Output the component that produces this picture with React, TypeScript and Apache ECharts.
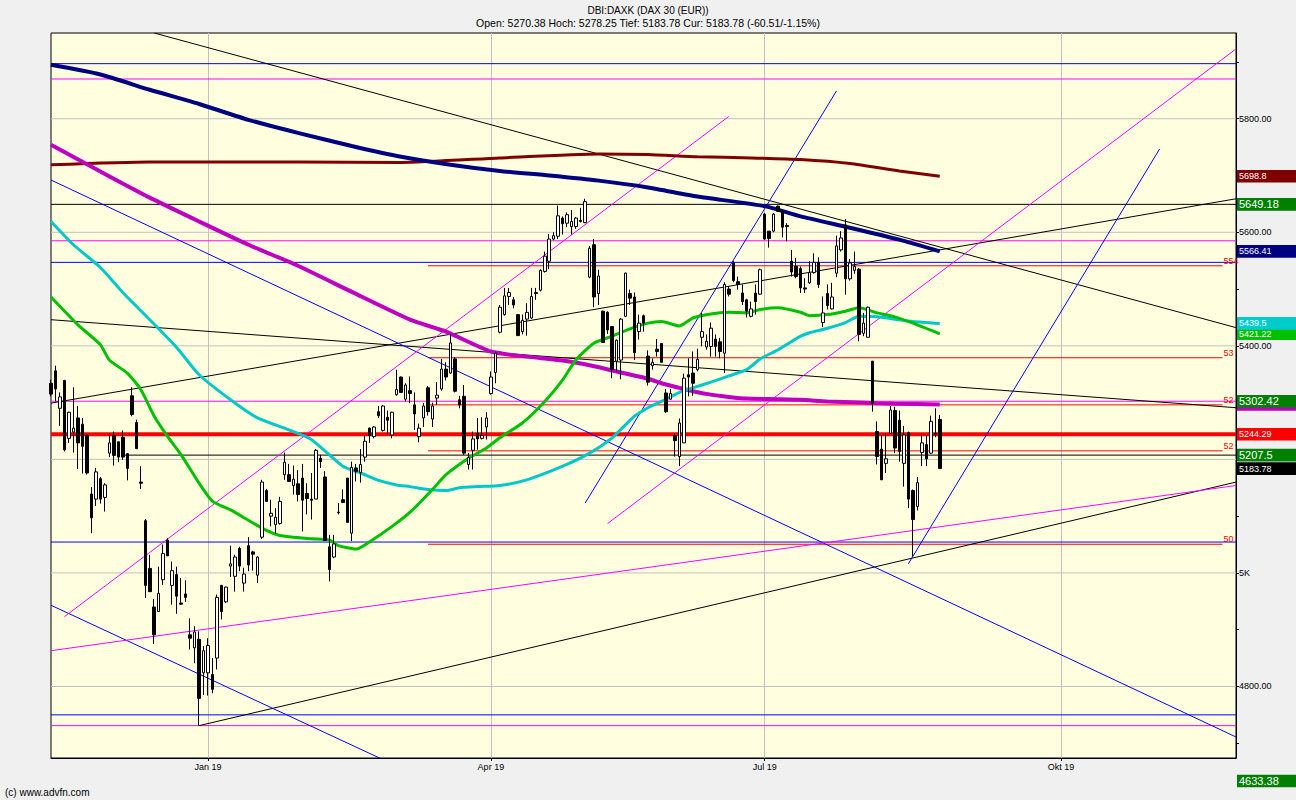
import React, { useEffect, useRef } from "react";
import * as echarts from "echarts";

const FONT = "'Liberation Sans', Arial, sans-serif";
const NARROW = "'Liberation Sans Narrow', 'Arial Narrow', 'Liberation Sans', Arial, sans-serif";

// ---- axes ----
const categoryCount = 265;
const categories = Array.from({ length: categoryCount }, (_, i) => String(i));
const lastIndex = categoryCount - 1;
const monthTickIndex = [35, 98, 159, 225];
const monthTickLabels = ["Jan 19", "Apr 19", "Jul 19", "Okt 19"];
const yMin = 4674;
const yMax = 5951;
const yTickValues = [4700, 4800, 4900, 5000, 5100, 5200, 5300, 5400, 5500, 5600, 5700, 5800, 5900];
// 5200.00 sits under the 5207.5 price tag in the reference, so it is not shown
const yLabelValues = [4800, 5000, 5400, 5600, 5800];
const gridValues = [4800, 5000, 5200, 5400, 5600, 5800];

// ---- daily candles: [open, close, low, high] ----
const ohlc: number[][] = [
  [5334, 5315, 5311, 5340], [5356, 5324, 5302, 5365], [5290, 5310, 5259, 5318], [5339, 5217, 5214, 5340],
  [5237, 5283, 5229, 5284], [5248, 5255, 5212, 5327], [5273, 5229, 5183, 5294], [5262, 5223, 5175, 5273],
  [5243, 5176, 5173, 5243], [5139, 5097, 5070, 5151], [5130, 5178, 5118, 5185], [5166, 5130, 5122, 5169],
  [5133, 5155, 5108, 5158], [5211, 5229, 5204, 5246], [5242, 5207, 5189, 5249], [5231, 5204, 5195, 5231],
  [5239, 5204, 5199, 5251], [5210, 5184, 5163, 5211], [5312, 5279, 5276, 5327], [5265, 5219, 5218, 5270],
  [5160, 5158, 5148, 5188], [5092, 4978, 4956, 5095], [5008, 4967, 4967, 5032], [4940, 4891, 4875, 4954],
  [4932, 4964, 4932, 5011], [4988, 5034, 4979, 5050], [5058, 5030, 5030, 5061], [4978, 5004, 4944, 5020],
  [4997, 4959, 4928, 5011], [4947, 4945, 4944, 4991], [4963, 4957, 4949, 4987], [4891, 4885, 4865, 4920],
  [4868, 4896, 4841, 4906], [4883, 4779, 4731, 4897], [4824, 4863, 4785, 4871], [4824, 4872, 4784, 4885],
  [4821, 4795, 4788, 4850], [4850, 4957, 4830, 4962], [4978, 4932, 4918, 4979], [4949, 4975, 4947, 4976],
  [5012, 5016, 4993, 5048], [4994, 5028, 4967, 5032], [5043, 5012, 5003, 5046], [4982, 4998, 4967, 5009],
  [5048, 5014, 5003, 5063], [5037, 5033, 5004, 5039], [4996, 5028, 4982, 5029], [5063, 5160, 5060, 5164],
  [5145, 5126, 5125, 5148], [5100, 5105, 5082, 5129], [5085, 5098, 5069, 5114], [5087, 5126, 5085, 5134],
  [5173, 5195, 5164, 5212], [5173, 5161, 5161, 5192], [5154, 5165, 5138, 5189], [5157, 5138, 5126, 5181],
  [5167, 5128, 5073, 5192], [5140, 5131, 5103, 5158], [5130, 5128, 5094, 5176], [5130, 5216, 5130, 5218],
  [5202, 5196, 5185, 5208], [5169, 5057, 5057, 5179], [5046, 5006, 4985, 5067], [5028, 5051, 5026, 5067],
  [5107, 5106, 5103, 5123], [5129, 5124, 5123, 5147], [5167, 5089, 5089, 5167], [5070, 5186, 5056, 5196],
  [5185, 5179, 5161, 5192], [5177, 5191, 5159, 5218], [5204, 5232, 5196, 5243], [5255, 5242, 5229, 5256],
  [5240, 5257, 5237, 5259], [5284, 5277, 5273, 5294], [5251, 5294, 5249, 5296], [5274, 5269, 5243, 5286],
  [5243, 5283, 5237, 5284], [5314, 5323, 5312, 5358], [5345, 5318, 5317, 5346], [5306, 5331, 5302, 5334],
  [5321, 5316, 5299, 5346], [5296, 5280, 5252, 5318], [5240, 5255, 5230, 5263], [5273, 5294, 5257, 5299],
  [5326, 5284, 5277, 5329], [5271, 5294, 5257, 5300], [5308, 5313, 5296, 5336], [5324, 5359, 5321, 5377],
  [5359, 5345, 5339, 5371], [5352, 5405, 5351, 5421], [5377, 5320, 5318, 5380], [5305, 5296, 5290, 5312],
  [5311, 5211, 5208, 5331], [5191, 5203, 5182, 5211], [5216, 5236, 5182, 5249], [5246, 5236, 5217, 5273],
  [5237, 5242, 5235, 5274], [5257, 5273, 5235, 5283], [5316, 5345, 5314, 5355], [5353, 5387, 5334, 5390],
  [5424, 5468, 5422, 5472], [5455, 5488, 5453, 5502], [5487, 5494, 5472, 5502], [5481, 5472, 5466, 5486],
  [5455, 5418, 5418, 5455], [5425, 5445, 5420, 5455], [5447, 5459, 5418, 5475], [5449, 5487, 5447, 5502],
  [5492, 5494, 5481, 5502], [5498, 5533, 5496, 5535], [5531, 5558, 5529, 5566], [5549, 5588, 5535, 5597],
  [5588, 5594, 5586, 5600], [5593, 5629, 5588, 5647], [5625, 5615, 5596, 5628], [5616, 5631, 5609, 5635],
  [5610, 5619, 5596, 5639], [5610, 5625, 5606, 5627], [5621, 5619, 5617, 5643], [5617, 5654, 5616, 5659],
  [5521, 5572, 5519, 5576], [5578, 5486, 5468, 5588], [5492, 5523, 5472, 5534], [5461, 5406, 5405, 5462],
  [5459, 5428, 5421, 5461], [5434, 5358, 5343, 5434], [5373, 5410, 5355, 5411], [5375, 5447, 5341, 5449],
  [5452, 5528, 5451, 5529], [5492, 5484, 5472, 5499], [5486, 5388, 5375, 5494], [5425, 5440, 5411, 5455],
  [5453, 5440, 5425, 5455], [5382, 5336, 5330, 5392], [5365, 5371, 5358, 5378], [5394, 5390, 5381, 5412],
  [5404, 5371, 5370, 5405], [5317, 5284, 5282, 5324], [5306, 5316, 5305, 5324], [5242, 5233, 5205, 5246],
  [5205, 5264, 5188, 5272], [5229, 5343, 5229, 5351], [5349, 5345, 5311, 5378], [5352, 5334, 5312, 5390],
  [5358, 5376, 5355, 5395], [5415, 5425, 5399, 5458], [5398, 5408, 5393, 5420], [5399, 5431, 5381, 5441],
  [5412, 5399, 5381, 5420], [5407, 5390, 5378, 5414], [5387, 5508, 5352, 5512], [5500, 5491, 5487, 5505],
  [5546, 5515, 5512, 5549], [5513, 5508, 5499, 5522], [5493, 5478, 5472, 5508], [5481, 5461, 5450, 5483],
  [5452, 5465, 5450, 5478], [5493, 5478, 5455, 5508], [5491, 5534, 5490, 5536], [5632, 5588, 5587, 5634],
  [5602, 5589, 5573, 5602], [5602, 5632, 5600, 5634], [5646, 5637, 5636, 5647], [5638, 5609, 5591, 5640],
  [5612, 5610, 5584, 5616], [5549, 5530, 5522, 5569], [5540, 5522, 5519, 5555], [5536, 5502, 5493, 5540],
  [5502, 5500, 5493, 5519], [5511, 5529, 5509, 5549], [5529, 5547, 5527, 5563], [5547, 5508, 5502, 5556],
  [5441, 5458, 5433, 5487], [5492, 5471, 5464, 5508], [5465, 5486, 5464, 5511], [5528, 5576, 5521, 5594],
  [5569, 5590, 5566, 5602], [5613, 5518, 5490, 5623], [5518, 5546, 5515, 5553], [5533, 5540, 5527, 5566],
  [5535, 5420, 5408, 5537], [5422, 5440, 5417, 5458], [5415, 5468, 5415, 5469], [5373, 5299, 5284, 5373],
  [5249, 5205, 5191, 5267], [5218, 5164, 5164, 5243], [5193, 5201, 5176, 5246], [5246, 5287, 5245, 5294],
  [5286, 5220, 5211, 5293], [5269, 5214, 5196, 5286], [5193, 5243, 5152, 5259], [5247, 5130, 5114, 5249],
  [5145, 5094, 5029, 5147], [5117, 5159, 5110, 5169], [5212, 5229, 5188, 5246], [5226, 5201, 5188, 5243],
  [5211, 5267, 5210, 5277], [5246, 5244.29, 5239, 5290], [5270.38, 5183.78, 5183.78, 5278.25],
];

// ---- moving averages, read at sampled candle indices: [index, value] ----
const maGreen: number[][] = [
  [0, 5486], [6, 5437], [11, 5402], [13, 5375], [17, 5352], [20, 5323], [23, 5276], [26, 5240], [29, 5208],
  [33, 5158], [36, 5126], [40, 5111], [47, 5079], [51, 5066], [58, 5060], [62, 5058], [64, 5048], [68, 5042],
  [71, 5055], [76, 5082], [80, 5107], [85, 5147], [88, 5173], [93, 5202], [97, 5220], [100, 5238], [105, 5264],
  [110, 5302], [114, 5340], [117, 5376], [121, 5405], [125, 5417], [129, 5430], [133, 5440], [136, 5443],
  [140, 5435], [143, 5449], [147, 5456], [151, 5459], [155, 5458], [158, 5464], [162, 5467], [167, 5459],
  [169, 5453], [173, 5455], [177, 5461], [180, 5467], [184, 5458], [188, 5451], [192, 5440], [198, 5421.22],
];
const maCyan: number[][] = [
  [0, 5619], [5, 5578], [11, 5538], [16, 5494], [22, 5446], [28, 5397], [33, 5349], [40, 5305], [46, 5273],
  [53, 5252], [58, 5235], [65, 5188], [69, 5176], [73, 5163], [77, 5155], [80, 5152], [84, 5147], [88, 5145],
  [91, 5150], [95, 5152], [100, 5154], [106, 5164], [114, 5188], [120, 5211], [125, 5238], [130, 5276],
  [133, 5291], [136, 5302], [140, 5318], [143, 5326], [147, 5336], [151, 5347], [155, 5358], [158, 5377],
  [162, 5393], [167, 5417], [169, 5423], [173, 5431], [177, 5441], [180, 5452], [184, 5451], [188, 5447],
  [192, 5443], [198, 5439.5],
];
const maMagenta: number[][] = [
  [0, 5754], [11, 5707], [22, 5661], [33, 5619], [44, 5578], [55, 5541], [67, 5495], [80, 5446], [88, 5425],
  [98, 5390], [106, 5381], [114, 5374], [121, 5364], [127, 5353], [133, 5342], [136, 5334], [140, 5326],
  [143, 5320], [147, 5314], [151, 5310], [155, 5307], [162, 5306], [167, 5305], [173, 5302], [180, 5300],
  [188, 5298], [198, 5296.7],
];
const maNavy: number[][] = [
  [0, 5895], [11, 5878], [22, 5851], [33, 5826], [44, 5798], [55, 5775], [67, 5752], [78, 5733], [89, 5719],
  [100, 5708], [111, 5700], [122, 5691], [133, 5679], [144, 5663], [159, 5646], [167, 5628], [178, 5608],
  [189, 5587], [198, 5566.41],
];
const maDarkRed: number[][] = [
  [0, 5719], [22, 5724], [55, 5724], [78, 5723], [100, 5731], [122, 5738], [133, 5737], [144, 5733],
  [156, 5731], [167, 5728], [178, 5721], [189, 5708], [198, 5698.8],
];

// ---- drawn trend lines: [[startIndex, startValue], [endIndex, endValue]] ----
const blackTrendLines: number[][][] = [
  [[23, 5951], [264, 5432]],
  [[0, 5446], [264, 5291]],
  [[0, 5299], [264, 5659]],
  [[33, 4731], [264, 5160]],
];
const blueTrendLines: number[][][] = [
  [[0, 5692], [264, 4711]],
  [[0, 4943], [80, 4649]],
  [[119, 5123], [175, 5849]],
  [[191, 5016], [247, 5747]],
];
const magentaTrendLines: number[][][] = [
  [[3, 4923], [151, 5804]],
  [[124, 5087], [264, 5923]],
  [[0, 4863], [264, 5154]],
];

// ---- horizontal levels ----
const blueLevels = [5897, 5547, 5054.4, 4750];
const magentaLevels = [5870, 5585, 5302.42, 4731];
const blackLevels = [5649.18];
const blackPartialLevels = [{ from: 16, value: 5207.5 }];
const previousClose = 5244.29;
const redShortLevels = [
  { from: 84, to: 261, value: 5541, label: "554" },
  { from: 84, to: 261, value: 5379, label: "53" },
  { from: 84, to: 261, value: 5296, label: "52" },
  { from: 84, to: 261, value: 5215, label: "52" },
  { from: 84, to: 261, value: 5050.5, label: "50" },
];

// ---- price tags at the right margin (drawn in this order) ----
// the magenta MA tag is covered by the 5302.42 tag in the reference: only its colour strip shows
const priceTags = [
  { value: 5296.7, text: "", kind: "magenta" },
  { value: 5302.42, text: "5302.42", kind: "greenBig" },
  { value: 5421.22, text: "5421.22", kind: "lime" },
  { value: 5439.5, text: "5439.5", kind: "cyan" },
  { value: 5698.8, text: "5698.8", kind: "darkred" },
  { value: 5649.18, text: "5649.18", kind: "greenBig" },
  { value: 5566.41, text: "5566.41", kind: "navy" },
  { value: 5244.29, text: "5244.29", kind: "red" },
  { value: 5207.5, text: "5207.5", kind: "greenBig" },
  { value: 5183.78, text: "5183.78", kind: "black" },
  { value: 4633.38, text: "4633.38", kind: "greenBig" },
];

const tagStyles: Record<string, { bg: string; size: number; font: string }> = {
  magenta: { bg: "#C000C0", size: 9, font: NARROW },
  greenBig: { bg: "#008000", size: 11, font: FONT },
  lime: { bg: "#00C000", size: 9, font: NARROW },
  cyan: { bg: "#00CCCC", size: 9, font: NARROW },
  darkred: { bg: "#800000", size: 9, font: NARROW },
  navy: { bg: "#000080", size: 9, font: NARROW },
  red: { bg: "#FF0000", size: 9, font: NARROW },
  black: { bg: "#000000", size: 9, font: NARROW },
};

function seg(data: number[][], color: string, width: number, z: number, extra: any = {}) {
  return {
    type: "line",
    data,
    symbol: "none",
    silent: true,
    animation: false,
    lineStyle: { color, width },
    z,
    ...extra,
  };
}

export default function App() {
  const ref = useRef<HTMLDivElement>(null);

  useEffect(() => {
    if (!ref.current) return;
    const chart = echarts.init(ref.current, null, { renderer: "svg" });

    const last = ohlc[ohlc.length - 1];
    const prevClose = ohlc[ohlc.length - 2][1];
    const change = last[1] - prevClose;
    const pct = (change / prevClose) * 100;
    const header =
      `Open: ${last[0].toFixed(2)} Hoch: ${last[3].toFixed(2)} Tief: ${last[2].toFixed(2)} ` +
      `Cur: ${last[1].toFixed(2)} (${change.toFixed(2)}/${pct.toFixed(2)}%)`;

    const series: any[] = [];
    gridValues.forEach((v) => series.push(seg([[0, v], [lastIndex, v]], "#C0C0C0", 1, 1)));
    blueLevels.forEach((v) => series.push(seg([[0, v], [lastIndex, v]], "#0000FF", 1, 2)));
    magentaLevels.forEach((v) => series.push(seg([[0, v], [lastIndex, v]], "#FF00FF", 1, 2)));
    blackLevels.forEach((v) => series.push(seg([[0, v], [lastIndex, v]], "#000000", 1, 2)));
    blackPartialLevels.forEach((l) => series.push(seg([[l.from, l.value], [lastIndex, l.value]], "#000000", 1, 2)));
    redShortLevels.forEach((l) =>
      series.push(
        seg([[l.from, l.value], [l.to, l.value]], "#FF0000", 1, 2, {
          endLabel: {
            show: true,
            formatter: l.label,
            color: "#FF0000",
            fontSize: 9,
            fontFamily: NARROW,
            distance: 1,
            offset: [0, -5],
          },
        })
      )
    );
    series.push(seg([[0, previousClose], [lastIndex, previousClose]], "#FF0000", 4, 3));
    blackTrendLines.forEach((l) => series.push(seg(l, "#000000", 1, 3)));
    blueTrendLines.forEach((l) => series.push(seg(l, "#0000FF", 1, 3)));
    magentaTrendLines.forEach((l) => series.push(seg(l, "#FF00FF", 1, 3)));
    series.push(seg(maDarkRed, "#800000", 3, 4, { smooth: 0.2 }));
    series.push(seg(maNavy, "#000080", 4, 4, { smooth: 0.2 }));
    series.push(seg(maMagenta, "#C000C0", 4, 4, { smooth: 0.2 }));
    series.push(seg(maCyan, "#00C8C8", 3, 4, { smooth: 0.2 }));
    series.push(seg(maGreen, "#00C000", 3, 4, { smooth: 0.2 }));
    series.push({
      type: "candlestick",
      data: ohlc,
      barWidth: 3,
      silent: true,
      animation: false,
      z: 10,
      itemStyle: {
        color: "#FFFFFF",
        color0: "#000000",
        borderColor: "#000000",
        borderColor0: "#000000",
        borderWidth: 1,
      },
    });

    const isMonthTick = (index: number) => monthTickIndex.indexOf(index) >= 0;

    chart.setOption({
      animation: false,
      backgroundColor: "#F0F0F0",
      title: [
        {
          text: "DBI:DAXK (DAX 30 (EUR))",
          left: "center",
          top: 4,
          padding: 0,
          textStyle: { fontSize: 10, fontWeight: "normal", color: "#000", fontFamily: FONT, lineHeight: 12 },
        },
        {
          text: header,
          left: "center",
          top: 17,
          padding: 0,
          textStyle: { fontSize: 10.5, fontWeight: "normal", color: "#000", fontFamily: FONT, lineHeight: 12 },
        },
        {
          text: "(c) www.advfn.com",
          left: 5,
          top: 786,
          padding: 0,
          textStyle: { fontSize: 10, fontWeight: "normal", color: "#000", fontFamily: FONT, lineHeight: 12 },
        },
      ],
      grid: {
        left: 51,
        right: 60,
        top: 33,
        bottom: 42,
        show: true,
        backgroundColor: "#FFFFE0",
        borderColor: "#000",
        borderWidth: 1,
      },
      xAxis: {
        type: "category",
        data: categories,
        boundaryGap: false,
        axisLine: { show: true, lineStyle: { color: "#000" } },
        axisTick: { show: true, interval: (i: number) => isMonthTick(i), length: 3, lineStyle: { color: "#000" } },
        axisLabel: {
          interval: (i: number) => isMonthTick(i),
          formatter: (_v: string, i: number) => {
            const k = monthTickIndex.indexOf(i);
            return k >= 0 ? monthTickLabels[k] : "";
          },
          margin: 4,
          fontSize: 9,
          fontFamily: NARROW,
          color: "#000",
          hideOverlap: false,
        },
        splitLine: { show: true, interval: (i: number) => isMonthTick(i), lineStyle: { color: "#C0C0C0", width: 1 } },
      },
      yAxis: {
        type: "value",
        position: "right",
        min: yMin,
        max: yMax,
        axisLine: { show: true, lineStyle: { color: "#000" } },
        axisTick: { show: true, length: 3, customValues: yTickValues, lineStyle: { color: "#000" } },
        axisLabel: {
          customValues: yLabelValues,
          formatter: (v: number) => (v === 5000 ? "5K" : v.toFixed(2)),
          margin: 3,
          fontSize: 9,
          fontFamily: NARROW,
          color: "#000",
        },
        splitLine: { show: false },
      },
      series,
    });

    const graphics: any[] = [];
    priceTags.forEach((t, k) => {
      const y = chart.convertToPixel({ yAxisIndex: 0 }, t.value) as number;
      const s = tagStyles[t.kind];
      graphics.push({
        type: "rect",
        z: 100 + k * 2,
        shape: { x: 1237, y: y - 6.3, width: 59, height: 12.6 },
        style: { fill: s.bg },
      });
      if (t.text) {
        graphics.push({
          type: "text",
          z: 101 + k * 2,
          x: 1239,
          y,
          style: {
            text: t.text,
            fill: "#FFFFFF",
            fontSize: s.size,
            fontFamily: s.font,
            verticalAlign: "middle",
            align: "left",
          },
        });
      }
    });
    chart.setOption({ graphic: graphics });

    return () => chart.dispose();
  }, []);

  return (
    <div
      ref={ref}
      style={{ position: "absolute", left: 0, top: 0, width: 1296, height: 800 }}
    />
  );
}
